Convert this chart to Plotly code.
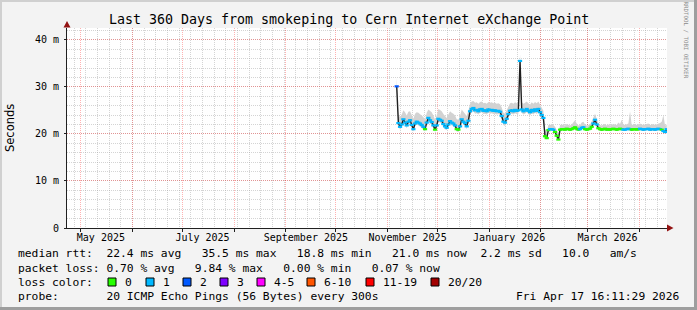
import pandas as pd
import plotly.graph_objects as go

# ---------------- data ----------------
first_day = "2025-11-06 12:00"
median_ms = [
    30.1, 22.3, 21.5, 22.0, 23.1, 22.4, 21.8, 22.6, 22.9, 21.9,
    21.0, 22.2, 22.6, 22.4, 22.2, 21.9, 21.5, 21.0, 22.4, 23.4,
    22.9, 22.5, 21.8, 20.9, 21.8, 23.2, 23.0, 22.8, 22.1, 21.6,
    21.3, 22.0, 22.7, 22.4, 22.2, 21.8, 21.0, 20.9, 21.6, 23.1,
    22.6, 22.3, 21.6, 22.8, 24.8, 25.3, 25.5, 25.0, 25.1, 24.8,
    25.2, 25.3, 24.9, 25.0, 24.8, 25.2, 25.0, 25.1, 24.9, 25.0,
    24.8, 24.9, 24.7, 23.8, 22.6, 22.4, 23.2, 24.2, 24.9, 25.0,
    24.8, 25.1, 24.9, 25.0, 35.5, 25.2, 24.8, 25.0, 25.3, 24.9,
    24.6, 25.1, 24.8, 25.2, 24.9, 25.3, 24.6, 24.0, 23.4, 19.5,
    19.1, 20.8, 21.0, 21.0, 20.9, 20.4, 19.6, 18.8, 20.9, 21.0,
    21.0, 20.9, 21.1, 21.0, 20.9, 21.0, 21.2, 21.4, 21.1, 20.9,
    21.0, 21.3, 21.4, 21.0, 20.9, 21.0, 21.1, 21.5, 22.2, 23.0,
    22.0, 21.2, 21.0, 20.9, 21.0, 21.1, 20.9, 21.0, 20.9, 21.0,
    21.1, 21.0, 20.9, 21.0, 21.1, 21.0, 20.9, 20.9, 21.0, 21.1,
    21.0, 20.9, 21.0, 21.0, 20.9, 21.0, 21.1, 21.0, 20.9, 21.0,
    21.0, 21.1, 20.9, 21.0, 21.0, 20.9, 21.0, 21.1, 21.0, 20.9,
    20.6, 20.4, 21.0,
]
smoke_hi = [
    32.0, 24.0, 23.6, 24.1, 25.0, 24.6, 23.9, 24.7, 24.8, 24.0,
    23.2, 24.3, 24.6, 24.5, 24.2, 23.9, 23.6, 23.0, 24.5, 25.2,
    24.9, 24.6, 23.9, 23.0, 23.9, 25.3, 25.1, 24.8, 24.2, 23.7,
    23.4, 24.1, 24.8, 24.5, 24.3, 23.9, 23.1, 23.0, 23.8, 25.2,
    24.8, 24.4, 23.8, 24.9, 26.4, 26.9, 27.0, 26.6, 26.7, 26.4,
    26.8, 26.9, 26.5, 26.6, 26.4, 26.8, 26.6, 26.7, 26.5, 26.6,
    26.4, 26.5, 26.3, 25.6, 24.5, 24.3, 25.0, 25.9, 26.5, 26.6,
    26.4, 26.7, 26.5, 26.6, 36.9, 26.8, 26.4, 26.6, 26.9, 26.5,
    26.2, 26.7, 26.4, 26.8, 26.5, 26.9, 26.2, 25.6, 24.9, 21.0,
    20.5, 21.9, 22.0, 22.0, 21.9, 21.5, 20.8, 20.0, 21.9, 22.0,
    21.9, 21.8, 22.1, 21.9, 21.8, 22.0, 22.6, 22.9, 22.2, 21.8,
    21.9, 22.4, 22.6, 22.0, 21.8, 21.9, 22.0, 22.7, 23.5, 24.3,
    23.2, 22.2, 21.9, 21.8, 22.0, 22.1, 21.8, 22.0, 21.8, 22.0,
    22.1, 22.0, 21.9, 22.4, 22.1, 23.0, 22.0, 21.9, 22.0, 22.2,
    24.8, 21.9, 22.0, 22.1, 21.9, 22.0, 22.2, 22.0, 21.9, 22.0,
    22.1, 22.2, 21.9, 22.0, 22.1, 21.9, 22.0, 22.2, 22.3, 22.6,
    24.0, 21.8, 22.0,
]
smoke_lo = [
    29.4, 21.6, 20.9, 21.4, 22.4, 21.8, 21.2, 22.0, 22.3, 21.3,
    20.5, 21.6, 22.0, 21.8, 21.6, 21.3, 20.9, 20.5, 21.8, 22.7,
    22.3, 21.9, 21.2, 20.4, 21.2, 22.5, 22.4, 22.2, 21.5, 21.0,
    20.8, 21.4, 22.1, 21.8, 21.6, 21.2, 20.5, 20.4, 21.0, 22.4,
    22.0, 21.7, 21.0, 22.1, 24.1, 24.6, 24.8, 24.3, 24.4, 24.1,
    24.5, 24.6, 24.2, 24.3, 24.1, 24.5, 24.3, 24.4, 24.2, 24.3,
    24.1, 24.2, 24.0, 23.1, 21.9, 21.7, 22.5, 23.5, 24.2, 24.3,
    24.1, 24.4, 24.2, 24.3, 34.0, 24.5, 24.1, 24.3, 24.6, 24.2,
    23.9, 24.4, 24.1, 24.5, 24.2, 24.6, 23.9, 23.3, 22.7, 19.1,
    18.8, 20.5, 20.7, 20.7, 20.6, 20.1, 19.3, 18.5, 20.6, 20.7,
    20.7, 20.6, 20.8, 20.7, 20.6, 20.7, 20.9, 21.1, 20.8, 20.6,
    20.7, 21.0, 21.1, 20.7, 20.6, 20.7, 20.8, 21.2, 21.8, 22.5,
    21.6, 20.9, 20.7, 20.6, 20.7, 20.8, 20.6, 20.7, 20.6, 20.7,
    20.8, 20.7, 20.6, 20.7, 20.8, 20.7, 20.6, 20.6, 20.7, 20.8,
    20.7, 20.6, 20.7, 20.7, 20.6, 20.7, 20.8, 20.7, 20.6, 20.7,
    20.7, 20.8, 20.6, 20.7, 20.7, 20.6, 20.7, 20.8, 20.7, 20.6,
    20.3, 20.1, 20.7,
]
# pings lost out of 20 (per sample)
loss = (
    [2] + [1] * 16 + [0] + [1] * 5 + [0] + [1] * 12 + [0, 0] + [1] * 51
    + [0] * 3 + [1] * 3 + [0] * 15 + [1] * 3 + [0] * 5 + [1] * 3
    + [0] * 15 + [1] * 5 + [0] * 5 + [1] * 13 + [0] + [1] * 3
)
loss_labels = ["0", "1", "2", "3", "4-5", "6-10", "11-19", "20/20"]
loss_colors = ["#26ff00", "#00b8ff", "#0059ff", "#7e00ff", "#ff00ff",
               "#ff5500", "#ff0000", "#a10000"]
label_ticks = ["2025-05-13", "2025-07-13", "2025-09-13",
               "2025-11-13", "2026-01-13", "2026-03-13"]
label_text = ["May 2025", "July 2025", "September 2025",
              "November 2025", "January 2026", "March 2026"]
y_ticks = [0, 10, 20, 30, 40]
y_text = ["0", "10 m", "20 m", "30 m", "40 m"]
t_end = "2026-04-17 16:11:29"
t_start = "2025-04-22 16:11:29"
y_max = 42.5

title = "Last 360 Days from smokeping to Cern Internet eXchange Point"
line_rtt = ("median rtt:  22.4 ms avg   35.5 ms max   18.8 ms min   "
            "21.0 ms now  2.2 ms sd   10.0   am/s")
line_loss = "packet loss: 0.70 % avg   9.84 % max   0.00 % min   0.07 % now"
line_probe = "probe:       20 ICMP Echo Pings (56 Bytes) every 300s"
stamp = "Fri Apr 17 16:11:29 2026"

# ---------------- figure ----------------
dates = pd.date_range(first_day, periods=len(median_ms), freq="D")
month_starts = pd.date_range("2025-05-01", "2026-04-01", freq="MS")
assert len(smoke_hi) == len(median_ms) == len(smoke_lo) == len(loss)

W, H = 697, 310
L, R, T, B = 67, 667, 28, 228


def px(x):
    return (x - L) / (R - L)


def py(y):
    return (B - y) / (B - T)


MONO = "DejaVu Sans Mono"
nb = lambda s: s.replace(" ", "\u00a0")

fig = go.Figure()
fig.add_trace(go.Scatter(x=dates, y=smoke_lo, mode="lines",
                         line=dict(width=0, color="#d2d2d2"),
                         hoverinfo="skip", showlegend=False))
fig.add_trace(go.Scatter(x=dates, y=smoke_hi, mode="lines", fill="tonexty",
                         fillcolor="#d2d2d2", line=dict(width=0, color="#d2d2d2"),
                         hoverinfo="skip", showlegend=False))
fig.add_trace(go.Scatter(x=dates, y=median_ms, mode="lines",
                         line=dict(width=1.4, color="#202020"),
                         showlegend=False))
fig.add_trace(go.Scatter(x=dates, y=median_ms, mode="markers",
                         marker=dict(symbol="line-ew", size=3,
                                     line=dict(width=2.2, color=[loss_colors[v] for v in loss])),
                         showlegend=False))
# invisible trace to activate the overlay axis
fig.add_trace(go.Scatter(x=[t_start], y=[0], xaxis="x2", mode="markers",
                         marker=dict(opacity=0), hoverinfo="skip", showlegend=False))

red_grid = "rgba(255,0,0,0.30)"
gray_grid = "rgba(160,160,160,0.45)"
tickfont = dict(family=MONO, size=10, color="#000000")

fig.update_layout(
    width=W, height=H,
    margin=dict(l=L, r=W - R, t=T, b=H - B, pad=0),
    paper_bgcolor="#f3f3f3", plot_bgcolor="#ffffff",
    showlegend=False,
    font=dict(family=MONO, size=10, color="#000000"),
    xaxis=dict(type="date", range=[t_start, t_end], tickmode="array",
               tickvals=label_ticks, ticktext=label_text, showgrid=False,
               ticks="", zeroline=False, showline=True, linecolor="#202020",
               linewidth=1, tickfont=tickfont,
               minor=dict(dtick=7 * 86400000, tick0="2025-04-27",
                          showgrid=True, gridcolor=gray_grid,
                          griddash="1px,1px", gridwidth=1)),
    xaxis2=dict(type="date", range=[t_start, t_end], overlaying="x",
                anchor="y", side="bottom", tickmode="array",
                tickvals=list(month_starts), showticklabels=False,
                showgrid=True, gridcolor=red_grid, griddash="1px,1px",
                gridwidth=1, ticks="outside", ticklen=3, tickcolor="#202020",
                showline=False, zeroline=False),
    yaxis=dict(range=[0, y_max], tickmode="array", tickvals=y_ticks,
               ticktext=y_text, showgrid=True, gridcolor=red_grid,
               griddash="1px,1px", gridwidth=1, zeroline=False,
               showline=True, linecolor="#202020", linewidth=1,
               ticks="outside", ticklen=2, tickcolor="#202020",
               tickfont=tickfont, ticklabelstandoff=3,
               minor=dict(dtick=2, showgrid=True, gridcolor=gray_grid,
                          griddash="1px,1px", gridwidth=1)),
)


def note(xp, yp, text, size=11.3, family=MONO, color="#000000",
         xanchor="left", angle=0):
    return dict(x=px(xp), y=py(yp), xref="paper", yref="paper",
                text=nb(text), showarrow=False, textangle=angle,
                xanchor=xanchor, yanchor="middle",
                font=dict(family=family, size=size, color=color))


ann = [
    note(348.5, 19, title, size=13.3, xanchor="center"),
    note(10, 128, "Seconds", size=11.5, family="DejaVu Sans",
         xanchor="center", angle=-90),
    note(685.5, 40, "RRDTOOL / TOBI OETIKER", size=5.8, color="#8a8a8a",
         xanchor="center", angle=90),
    note(16, 254, line_rtt),
    note(16, 268, line_loss),
    note(16, 282, "loss color:"),
    note(16, 296, line_probe),
    note(681, 296, stamp, xanchor="right"),
]

sq_x = [108, 146, 183, 220, 257, 307, 366, 431]
shapes = []
for lab, col, sx in zip(loss_labels, loss_colors, sq_x):
    shapes.append(dict(type="rect", xref="paper", yref="paper",
                       x0=px(sx), x1=px(sx + 8), y0=py(286), y1=py(278),
                       fillcolor=col, line=dict(color="#000", width=1)))
    ann.append(note(sx + 15, 282, lab))

# frame
shapes += [
    dict(type="line", xref="paper", yref="paper", x0=px(0), x1=px(697),
         y0=py(1), y1=py(1), line=dict(color="#d0d0d0", width=2)),
    dict(type="line", xref="paper", yref="paper", x0=px(1), x1=px(1),
         y0=py(0), y1=py(310), line=dict(color="#d0d0d0", width=2)),
    dict(type="line", xref="paper", yref="paper", x0=px(0), x1=px(697),
         y0=py(308.5), y1=py(308.5), line=dict(color="#9e9e9e", width=3)),
    dict(type="line", xref="paper", yref="paper", x0=px(695.5), x1=px(695.5),
         y0=py(0), y1=py(310), line=dict(color="#9e9e9e", width=3)),
]
# axis arrows
arrow = "#931313"
shapes.append(dict(type="path", xref="paper", yref="paper",
                   path=f"M {px(63.5)},{py(27.5)} L {px(70.5)},{py(27.5)} L {px(67)},{py(21)} Z",
                   fillcolor=arrow, line=dict(color=arrow, width=0), layer="above"))
shapes.append(dict(type="path", xref="paper", yref="paper",
                   path=f"M {px(667)},{py(224.5)} L {px(667)},{py(231.5)} L {px(673.5)},{py(228)} Z",
                   fillcolor=arrow, line=dict(color=arrow, width=0), layer="above"))

fig.update_layout(annotations=ann, shapes=shapes)
fig.write_html("out.html", config={"displayModeBar": False})
